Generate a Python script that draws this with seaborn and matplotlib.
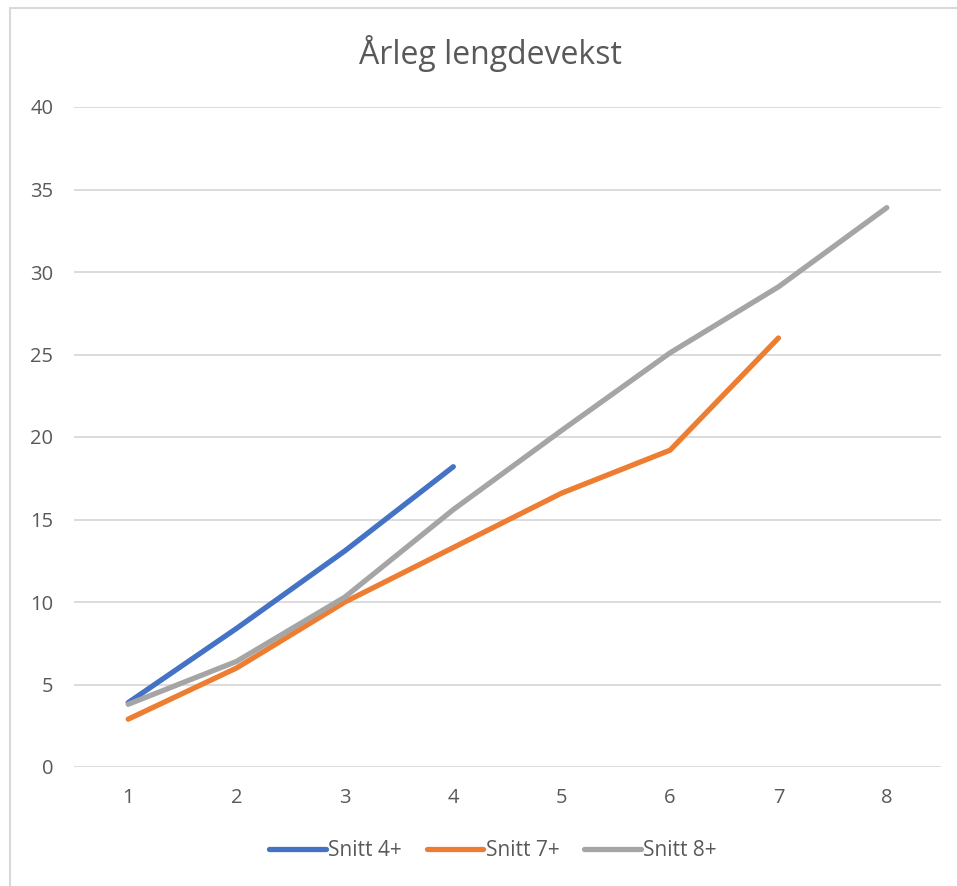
import matplotlib
matplotlib.use("Agg")
import matplotlib.pyplot as plt
from matplotlib.lines import Line2D
import seaborn as sns
import pandas as pd

title = "Årleg lengdevekst"
series_names = ["Snitt 4+", "Snitt 7+", "Snitt 8+"]
ages_4 = [1, 2, 3, 4]
snitt_4 = [3.9, 8.4, 13.1, 18.2]
ages_7 = [1, 2, 3, 4, 5, 6, 7]
snitt_7 = [2.9, 6.0, 10.0, 13.3, 16.6, 19.2, 26.0]
ages_8 = [1, 2, 3, 4, 5, 6, 7, 8]
snitt_8 = [3.8, 6.4, 10.3, 15.6, 20.4, 25.1, 29.1, 33.9]
x_ticks = [1, 2, 3, 4, 5, 6, 7, 8]
y_ticks = [0, 5, 10, 15, 20, 25, 30, 35, 40]
colors = ["#4472C4", "#ED7D31", "#A5A5A5"]

rows = []
for name, xs, ys in zip(series_names, [ages_4, ages_7, ages_8], [snitt_4, snitt_7, snitt_8]):
    for x, y in zip(xs, ys):
        rows.append({"Alder": x, "Lengde": y, "Serie": name})
df = pd.DataFrame(rows)

sns.set_theme(style="white")
plt.rcParams["font.family"] = ["Open Sans", "DejaVu Sans"]
txt = "#595959"

fig = plt.figure(figsize=(9.57, 8.86), dpi=100)
ax = fig.add_axes([74 / 957, 1 - 767 / 886, (941 - 74) / 957, (767 - 107) / 886])

sns.lineplot(data=df, x="Alder", y="Lengde", hue="Serie", hue_order=series_names,
             palette=colors, linewidth=3.8, sort=False, ax=ax, legend=False,
             solid_capstyle="round", solid_joinstyle="round")

ax.set_xlim(0.5, 8.5)
ax.set_ylim(0, 40)
ax.set_xticks(x_ticks)
ax.set_xticklabels([str(v) for v in x_ticks])
ax.set_yticks(y_ticks)
ax.set_yticklabels([str(v) for v in y_ticks])
ax.set_xlabel("")
ax.set_ylabel("")
ax.yaxis.grid(True, color="#D9D9D9", linewidth=1.3)
ax.xaxis.grid(False)
ax.set_axisbelow(True)
for s in ax.spines.values():
    s.set_visible(False)
ax.tick_params(axis="y", length=0, pad=15, labelsize=14.5, labelcolor=txt)
ax.tick_params(axis="x", length=0, pad=15, labelsize=14.5, labelcolor=txt)
for line in ax.get_lines():
    line.set_clip_on(False)

fig.text(0.512, 0.940, title, ha="center", va="center", fontsize=23, color=txt)

handles = [Line2D([0], [0], color=c, linewidth=3.8, solid_capstyle="round") for c in colors]
fig.legend(handles, series_names, loc="center", bbox_to_anchor=(493 / 957, 1 - 851 / 886),
           ncol=3, frameon=False, fontsize=15, handlelength=2.7, handletextpad=0.12,
           columnspacing=1.2, labelcolor=txt)

# chart border (top and left visible)
fig.add_artist(Line2D([10 / 957, 10 / 957], [0, 1 - 8 / 886], transform=fig.transFigure,
                      color="#D9D9D9", linewidth=1.5))
fig.add_artist(Line2D([10 / 957, 1], [1 - 8 / 886, 1 - 8 / 886], transform=fig.transFigure,
                      color="#D9D9D9", linewidth=1.5))

fig.savefig("out.png", dpi=100, facecolor="white")
